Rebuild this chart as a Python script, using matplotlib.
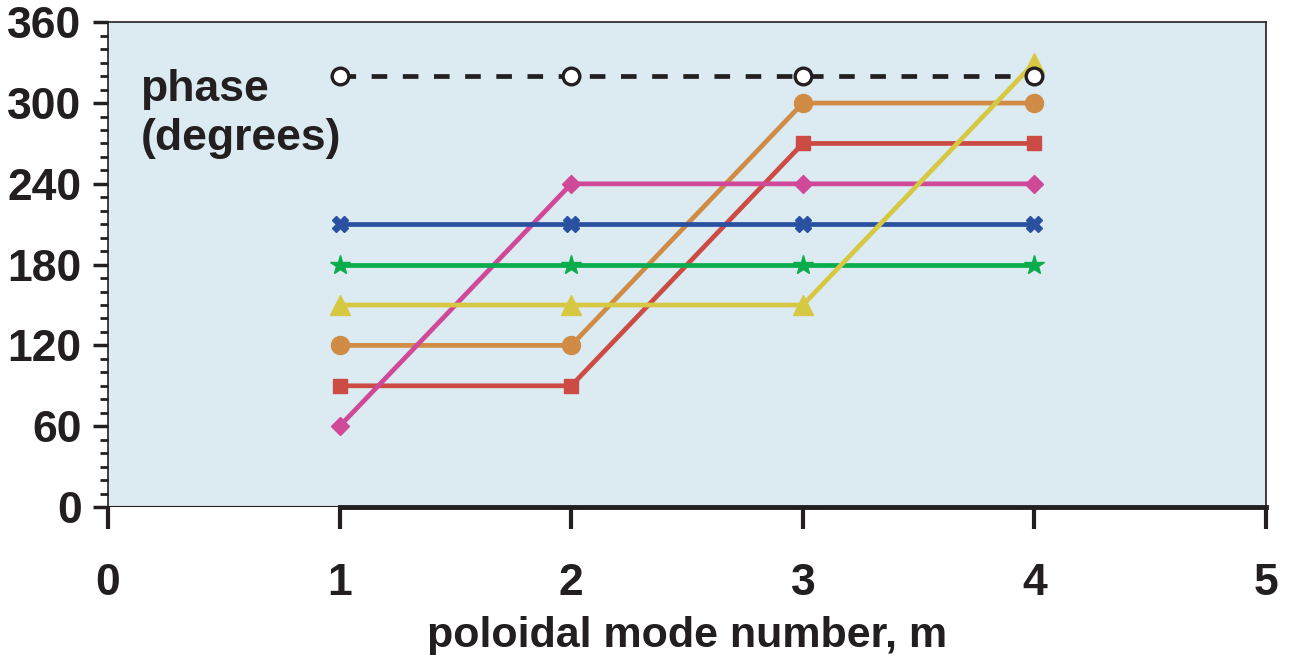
import numpy as np
import matplotlib.pyplot as plt
from matplotlib.ticker import MultipleLocator

plt.rcParams['font.family'] = ['Liberation Sans', 'DejaVu Sans']
plt.rcParams['font.weight'] = 'bold'

# poloidal mode numbers and phase of each series (degrees)
m = [1, 2, 3, 4]
ref_phase = [320, 320, 320, 320]
orange_phase = [120, 120, 300, 300]
red_phase = [90, 90, 270, 270]
pink_phase = [60, 240, 240, 240]
blue_phase = [210, 210, 210, 210]
green_phase = [180, 180, 180, 180]
yellow_phase = [150, 150, 150, 330]

fig = plt.figure(figsize=(12.91, 6.55), dpi=100)
ax = fig.add_axes([0.0837, 0.226, 0.897, 0.740])
ax.set_facecolor('#dcebf2')

lw = 3.4
ax.plot(m, orange_phase, color='#d08c45', lw=lw, marker='o', ms=13)
ax.plot(m, red_phase, color='#cc4b45', lw=lw, marker='s', ms=10.5)
ax.plot(m, pink_phase, color='#d04898', lw=lw, marker='D', ms=9)
ax.plot(m, blue_phase, color='#2a51a0', lw=lw, marker='X', ms=12)
ax.plot(m, green_phase, color='#0bac4b', lw=lw, marker='*', ms=15)
ax.plot(m, yellow_phase, color='#d6c843', lw=lw, marker='^', ms=14)
ax.plot(m, ref_phase, color='#231f20', lw=lw, ls=(0, (3.3, 3.3)), marker='o', ms=12,
        mfc='white', mec='#231f20', mew=2.4)

ax.set_xlim(0, 5)
ax.set_ylim(0, 360)
ax.xaxis.set_major_locator(MultipleLocator(1))
ax.yaxis.set_major_locator(MultipleLocator(60))
ax.yaxis.set_minor_locator(MultipleLocator(10))

for s in ['top', 'right', 'left']:
    ax.spines[s].set_linewidth(1.2)
    ax.spines[s].set_color('#231f20')
ax.spines['bottom'].set_linewidth(3.5)
ax.spines['bottom'].set_color('#231f20')
ax.spines['bottom'].set_bounds(1, 5)
ax.axhline(0, color='#231f20', lw=1.5, zorder=0.5)

ax.tick_params(axis='x', which='major', direction='out', length=16, width=3,
               color='#231f20', pad=24, labelsize=32)
ax.tick_params(axis='y', which='major', direction='out', length=11, width=2.5,
               color='#231f20', pad=8, labelsize=32)
ax.tick_params(axis='y', which='minor', direction='out', length=6, width=2,
               color='#231f20')
for lab in ax.get_xticklabels() + ax.get_yticklabels():
    lab.set_color('#231f20')
    lab.set_fontweight('bold')

ax.text(0.14, 325, 'phase\n(degrees)', fontsize=32, fontweight='bold',
        color='#231f20', va='top', ha='left', linespacing=1.25)
ax.set_xlabel('poloidal mode number, m', fontsize=31, fontweight='bold',
              color='#231f20', labelpad=9)

fig.savefig('out.png', dpi=100)
